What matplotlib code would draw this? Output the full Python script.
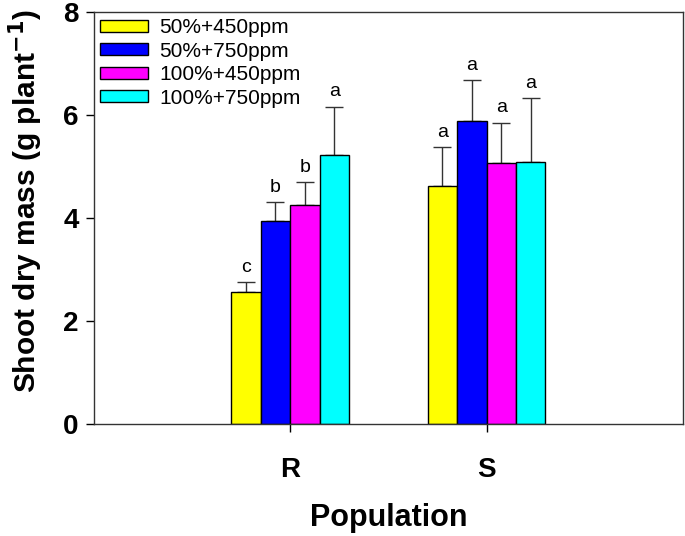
import matplotlib
matplotlib.use("Agg")
import matplotlib.pyplot as plt
import numpy as np

plt.rcParams['font.family'] = ['Liberation Sans', 'DejaVu Sans']

populations = ["R", "S"]
treatments = ["50%+450ppm", "50%+750ppm", "100%+450ppm", "100%+750ppm"]
colors = ["#ffff00", "#0000ff", "#ff00ff", "#00ffff"]
means = {
    "50%+450ppm": [2.56, 4.62],
    "50%+750ppm": [3.94, 5.89],
    "100%+450ppm": [4.25, 5.06],
    "100%+750ppm": [5.23, 5.09],
}
errors = {
    "50%+450ppm": [0.19, 0.75],
    "50%+750ppm": [0.36, 0.78],
    "100%+450ppm": [0.45, 0.79],
    "100%+750ppm": [0.93, 1.23],
}
letters = {
    "50%+450ppm": ["c", "a"],
    "50%+750ppm": ["b", "a"],
    "100%+450ppm": ["b", "a"],
    "100%+750ppm": ["a", "a"],
}

fig = plt.figure(figsize=(6.85, 5.36), dpi=100)
ax = fig.add_axes([0.137, 0.209, 0.860, 0.769])

x = np.arange(1, len(populations) + 1)
w = 0.15
for i, t in enumerate(treatments):
    xs = x + (i - 1.5) * w
    ax.bar(xs, means[t], width=w, color=colors[i], edgecolor="black",
           linewidth=1.0, label=t, zorder=2)
    ax.errorbar(xs, means[t], yerr=[np.zeros(len(xs)), errors[t]], fmt="none",
                ecolor="#333333", elinewidth=1.0, capsize=6.5, capthick=1.0, zorder=1)
    for xi, m, e, l in zip(xs, means[t], errors[t], letters[t]):
        ax.text(xi, m + e + 0.12, l, ha="center", va="bottom", fontsize=14)

ax.set_xlim(0, 3)
ax.set_ylim(0, 8)
ax.set_xticks(x)
ax.set_xticklabels(populations, fontsize=20, fontweight="bold")
ax.set_yticks([0, 2, 4, 6, 8])
ax.set_yticklabels(["0", "2", "4", "6", "8"], fontsize=20, fontweight="bold")
ax.tick_params(axis="both", direction="out", length=6, width=1, pad=5)
ax.tick_params(axis="x", pad=18)
for s in ax.spines.values():
    s.set_linewidth(1.0)
    s.set_color("#333333")

ax.set_xlabel("Population", fontsize=22, fontweight="bold", labelpad=14)
ax.set_ylabel("Shoot dry mass (g plant$^{\\mathbf{-1}}$)", fontsize=21.5, fontweight="bold", labelpad=13)
ax.yaxis.label.set_y(0.54)

leg = ax.legend(loc="upper left", frameon=False, fontsize=15, handlelength=2.3,
                handleheight=0.5, handletextpad=0.55, labelspacing=0.22,
                borderpad=0.2, borderaxespad=0.1, bbox_to_anchor=(0.0, 1.0))

fig.savefig("out.png", dpi=100)
